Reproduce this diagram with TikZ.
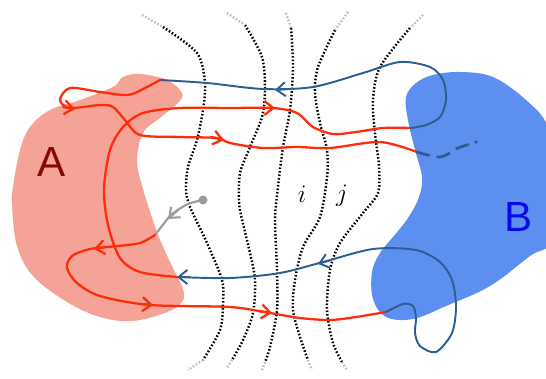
\documentclass[tikz,border=0pt]{standalone}
\usepackage{fontspec}
\newfontfamily\blobfont{Liberation Sans}
\usetikzlibrary{arrows.meta}
\definecolor{blobA}{HTML}{F4A396}
\definecolor{blobB}{HTML}{5D8FF0}
\definecolor{fwd}{HTML}{FF2B0A}
\definecolor{back}{HTML}{2A5F90}
\definecolor{inkA}{HTML}{850808}
\definecolor{inkB}{HTML}{0A0AE6}
\definecolor{probe}{HTML}{9C9C9C}
\tikzset{
  field/.style={draw=black,line width=1.4pt,dash pattern=on 0.9pt off 1.1pt},
  fieldend/.style={field,draw=black!25},
  fwdpath/.style={draw=fwd,line width=1.3pt,line cap=round,line join=round},
  backpath/.style={draw=back,line width=1.1pt,line cap=round,line join=round},
  probepath/.style={draw=probe,line width=1.2pt,line cap=round},
  tip/.style={-{Straight Barb[length=5pt,width=8pt]}},
  bloblabel/.style={font=\blobfont\fontsize{24}{24}\selectfont},
  idx/.style={font=\fontsize{15}{15}\selectfont}
}

\begin{document}
\begin{tikzpicture}[x=0.02cm,y=-0.02cm]
  \useasboundingbox (0,0) rectangle (546,378);
  \clip (0,0) rectangle (546,378);

  \fill[blobA] plot[smooth cycle,tension=0.6] coordinates {(123,77) (140,74) (167,80) (182,93) (177,104) (157,120) (143,133) (137,160) (143,189) (157,232) (170,262) (183,289) (182,302) (167,312) (133,321) (100,317) (67,302) (33,276) (17,246) (12,206) (13,187) (20,150) (30,127) (50,110) (80,100) (113,87)};
  \fill[blobB] plot[smooth cycle,tension=0.6] coordinates {(406,97) (416,83) (433,75) (460,72) (493,77) (526,100) (548,127) (558,180) (552,240) (530,256) (490,286) (446,306) (413,319) (386,317) (373,299) (372,272) (380,253) (393,237) (408,218) (419,197) (422,177) (415,150) (408,120)};

  % field lines
  \draw[field] plot[smooth] coordinates {(163,27) (197,53) (205,83) (203,110) (197,140) (188,167) (186,190) (190,207) (207,243) (222,280) (223,303) (220,330) (203,360)};
  \draw[field] plot[smooth] coordinates {(245,25) (262,57) (265,90) (262,117) (250,147) (240,173) (239,200) (241,215) (250,253) (255,280) (253,313) (243,340) (232,360)};
  \draw[field] plot[smooth] coordinates {(291,28) (293,67) (290,110) (283,147) (278,187) (275,220) (277,270) (277,310) (270,347) (265,362)};
  \draw[field] plot[smooth] coordinates {(335,30) (318,67) (315,93) (320,123) (327,150) (327,177) (320,217) (303,247) (295,280) (293,310) (300,337) (308,360)};
  \draw[field] plot[smooth] coordinates {(410,28) (380,67) (373,100) (375,133) (379,167) (378,193) (363,213) (340,243) (330,270) (327,310) (333,343) (342,362)};
  \draw[fieldend] (142,15) -- (163,27);
  \draw[fieldend] (203,360) -- (188,370);
  \draw[fieldend] (227,13) -- (245,25);
  \draw[fieldend] (232,360) -- (227,368);
  \draw[fieldend] (286,13) -- (291,28);
  \draw[fieldend] (265,362) -- (262,370);
  \draw[fieldend] (348,12) -- (335,30);
  \draw[fieldend] (308,360) -- (312,370);
  \draw[fieldend] (423,15) -- (410,28);
  \draw[fieldend] (342,362) -- (347,370);

  % trajectory
  \draw[probepath] plot[smooth] coordinates {(203,200) (188,204) (172,214) (162,226) (155,235)};
  \draw[probepath,tip] (178,210) -- (168,219);
  \fill[probe] (203,200) circle (4.5);

  \draw[fwdpath] plot[smooth] coordinates {(155,235) (140,243) (118,246) (90,249) (72,256) (67,268) (77,283) (100,296) (150,305) (230,307) (270,313) (300,318) (330,320) (356,317) (386,312)};
  \draw[fwdpath,tip] (106,247) -- (94,249);
  \draw[fwdpath,tip] (140,304) -- (153,305);
  \draw[fwdpath,tip] (258,311) -- (272,313);

  \draw[backpath] plot[smooth] coordinates {(386,312) (403,304) (413,306) (416,318) (415,333) (420,346) (436,352) (452,333) (456,306) (452,280) (440,262) (416,250) (373,249) (323,262) (280,273) (230,278) (177,277)};
  \draw[backpath,tip] (331,260) -- (318,264);
  \draw[backpath,tip] (190,277) -- (177,277);

  \draw[fwdpath] plot[smooth] coordinates {(177,277) (140,272) (120,258) (108,225) (104,189) (110,150) (123,127) (143,113) (180,108) (230,108) (273,108) (297,113) (313,127) (333,134) (356,132) (383,128) (411,128)};
  \draw[fwdpath,tip] (262,108) -- (275,108);

  \draw[backpath] plot[smooth] coordinates {(411,128) (426,125) (440,117) (446,100) (443,80) (430,67) (400,62) (363,73) (313,87) (263,89) (207,83) (160,80)};
  \draw[backpath,tip] (288,89) -- (275,90);

  \draw[fwdpath] plot[smooth] coordinates {(160,80) (145,88) (128,95) (100,92) (70,88) (60,100) (70,108) (100,105) (113,107) (125,120) (140,135) (180,137) (217,138) (230,143) (263,148) (297,147) (330,148) (380,142) (417,152)};
  \draw[fwdpath,tip] (63,107) -- (75,109);
  \draw[fwdpath,tip] (211,137) -- (224,140);

  \draw[backpath,line width=1.6pt,dash pattern=on 7pt off 5pt] plot[smooth] coordinates {(417,152) (440,157) (458,148) (470,144)};
  \fill[back] (476,142) circle (1.8);

  % labels
  \node[bloblabel,text=inkA] (labelA) at (52,162) {A};
  \node[bloblabel,text=inkB] (labelB) at (519,217) {B};
  \node[idx] (labeli) at (302,194) {$i$};
  \node[idx] (labelj) at (342,196) {$j$};
\end{tikzpicture}
\end{document}
